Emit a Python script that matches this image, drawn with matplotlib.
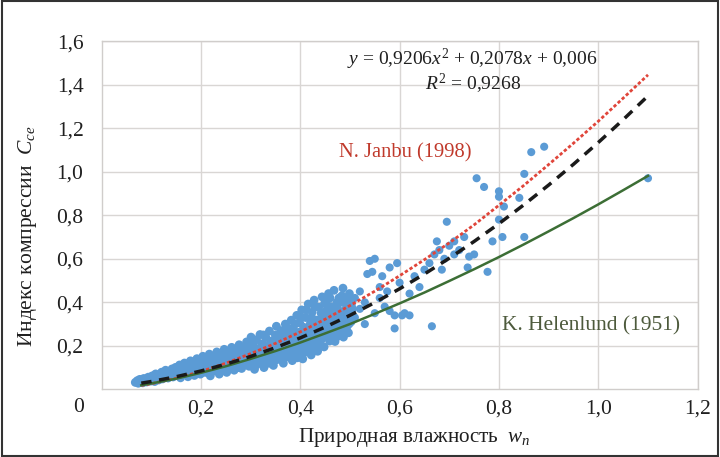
import matplotlib
matplotlib.use("Agg")
import matplotlib.pyplot as plt
from matplotlib.patches import Rectangle

plt.rcParams['font.family'] = ['Liberation Serif', 'DejaVu Serif']
plt.rcParams['mathtext.fontset'] = 'custom'
plt.rcParams['mathtext.rm'] = 'Liberation Serif'
plt.rcParams['mathtext.it'] = 'Liberation Serif:italic'

# --- опытные точки: природная влажность w и индекс компрессии Cce ---
w_band = [
    0.068, 0.072, 0.074, 0.077, 0.079, 0.083, 0.085, 0.088, 0.091, 0.094,
    0.096, 0.099, 0.102, 0.104, 0.107, 0.109, 0.112, 0.115, 0.117, 0.121,
    0.123, 0.126, 0.129, 0.131, 0.134, 0.136, 0.139, 0.142, 0.144, 0.147,
    0.149, 0.152, 0.154, 0.157, 0.159, 0.162, 0.164, 0.167, 0.169, 0.172,
    0.174, 0.177, 0.179, 0.182, 0.184, 0.187, 0.189, 0.192, 0.194, 0.197,
    0.199, 0.202, 0.204, 0.207, 0.209, 0.212, 0.214, 0.217, 0.219, 0.222,
    0.224, 0.227, 0.229, 0.232, 0.234, 0.237, 0.239, 0.242, 0.244, 0.247,
    0.249, 0.252, 0.254, 0.257, 0.259, 0.262, 0.264, 0.267, 0.269, 0.272,
    0.274, 0.277, 0.279, 0.282, 0.284, 0.287, 0.289, 0.292, 0.294, 0.297,
    0.299, 0.301, 0.303, 0.305, 0.308, 0.310, 0.312, 0.315, 0.317, 0.319,
    0.322, 0.324, 0.327, 0.329, 0.331, 0.334, 0.336, 0.338, 0.341, 0.343,
    0.346, 0.348, 0.350, 0.352, 0.354, 0.356, 0.359, 0.361, 0.363, 0.366,
    0.368, 0.370, 0.372, 0.375, 0.377, 0.379, 0.382, 0.384, 0.386, 0.388,
    0.391, 0.393, 0.395, 0.397, 0.399, 0.401, 0.403, 0.405, 0.407, 0.409,
    0.411, 0.413, 0.416, 0.418, 0.420, 0.422, 0.424, 0.426, 0.428, 0.431,
    0.433, 0.435, 0.437, 0.439, 0.441, 0.444, 0.446, 0.448, 0.450, 0.452,
    0.454, 0.457, 0.459, 0.461, 0.464, 0.466, 0.468, 0.471, 0.473, 0.476,
    0.478, 0.481, 0.483, 0.486, 0.488, 0.491, 0.493, 0.496, 0.499, 0.502,
    0.505,
    0.256, 0.266, 0.276, 0.286, 0.296, 0.306, 0.313, 0.321, 0.326, 0.333,
    0.339, 0.345, 0.349, 0.357, 0.362, 0.365, 0.369, 0.373, 0.376, 0.381,
    0.385, 0.389, 0.392, 0.396, 0.400, 0.404, 0.408, 0.412, 0.415, 0.419,
    0.423, 0.427, 0.430, 0.434, 0.438, 0.442, 0.445, 0.449, 0.453, 0.456,
    0.460, 0.463, 0.467, 0.470, 0.474, 0.477, 0.480, 0.484, 0.487, 0.490,
    0.494, 0.497, 0.500, 0.504,
    0.158, 0.166, 0.176, 0.186, 0.196, 0.206, 0.216, 0.226, 0.236, 0.246,
    0.253, 0.261, 0.268, 0.275, 0.283, 0.291, 0.298, 0.304, 0.311, 0.318,
    0.325, 0.332, 0.337, 0.344, 0.351, 0.355, 0.360, 0.367, 0.371, 0.378,
    0.383, 0.387, 0.394, 0.398, 0.402, 0.406, 0.410, 0.414, 0.417, 0.421,
    0.425, 0.429, 0.432, 0.436, 0.440, 0.443, 0.447, 0.451, 0.455, 0.458,
    0.462, 0.465, 0.469, 0.472, 0.475, 0.479, 0.482, 0.485, 0.489, 0.492,
    0.495, 0.498, 0.503,
]
cc_band = [
    0.032, 0.040, 0.028, 0.046, 0.035, 0.030, 0.050, 0.041, 0.034, 0.056,
    0.046, 0.038, 0.062, 0.050, 0.036, 0.071, 0.057, 0.043, 0.066, 0.079,
    0.048, 0.060, 0.088, 0.071, 0.052, 0.081, 0.064, 0.094, 0.057, 0.076,
    0.101, 0.066, 0.088, 0.112, 0.053, 0.080, 0.098, 0.121, 0.069, 0.090,
    0.058, 0.109, 0.131, 0.078, 0.100, 0.064, 0.120, 0.141, 0.087, 0.110,
    0.070, 0.130, 0.152, 0.095, 0.078, 0.118, 0.140, 0.162, 0.062, 0.104,
    0.128, 0.085, 0.150, 0.172, 0.113, 0.070, 0.138, 0.093, 0.160, 0.184,
    0.122, 0.078, 0.148, 0.104, 0.170, 0.193, 0.131, 0.088, 0.157, 0.116,
    0.182, 0.205, 0.140, 0.096, 0.167, 0.124, 0.194, 0.218, 0.150, 0.106,
    0.178, 0.240, 0.133, 0.205, 0.092, 0.160, 0.228, 0.118, 0.186, 0.252,
    0.143, 0.210, 0.100, 0.170, 0.238, 0.127, 0.196, 0.268, 0.154, 0.222,
    0.110, 0.182, 0.250, 0.290, 0.138, 0.212, 0.166, 0.270, 0.236, 0.120,
    0.196, 0.300, 0.150, 0.255, 0.222, 0.178, 0.318, 0.132, 0.282, 0.240,
    0.200, 0.340, 0.160, 0.262, 0.305, 0.222, 0.365, 0.140, 0.285, 0.185,
    0.330, 0.246, 0.392, 0.205, 0.300, 0.158, 0.355, 0.268, 0.410, 0.226,
    0.318, 0.175, 0.378, 0.288, 0.245, 0.425, 0.340, 0.195, 0.300, 0.398,
    0.262, 0.440, 0.222, 0.352, 0.318, 0.280, 0.455, 0.380, 0.240, 0.335,
    0.420, 0.300, 0.258, 0.465, 0.360, 0.395, 0.280, 0.330, 0.440, 0.310,
    0.370,
    0.125, 0.172, 0.100, 0.145, 0.200, 0.180, 0.140, 0.196, 0.250, 0.160,
    0.207, 0.140, 0.230, 0.190, 0.150, 0.250, 0.225, 0.285, 0.200, 0.162,
    0.262, 0.300, 0.228, 0.190, 0.330, 0.250, 0.210, 0.365, 0.275, 0.238,
    0.330, 0.190, 0.380, 0.262, 0.215, 0.350, 0.280, 0.395, 0.330, 0.240,
    0.420, 0.290, 0.365, 0.220, 0.400, 0.300, 0.350, 0.430, 0.240, 0.320,
    0.380, 0.260, 0.410, 0.340,
    0.075, 0.085, 0.095, 0.088, 0.100, 0.112, 0.090, 0.108, 0.125, 0.100,
    0.135, 0.110, 0.140, 0.120, 0.155, 0.128, 0.160, 0.150, 0.112, 0.165,
    0.132, 0.180, 0.120, 0.170, 0.135, 0.175, 0.205, 0.140, 0.175, 0.150,
    0.210, 0.175, 0.145, 0.240, 0.180, 0.165, 0.270, 0.225, 0.175, 0.260,
    0.215, 0.300, 0.200, 0.245, 0.320, 0.230, 0.260, 0.360, 0.300, 0.270,
    0.380, 0.250, 0.330, 0.290, 0.370, 0.270, 0.400, 0.310, 0.280, 0.350,
    0.410, 0.300, 0.390,
]
w_sparse = [0.51, 0.51, 0.52, 0.52, 0.53, 0.53, 0.535, 0.54, 0.55, 0.545,
            0.55, 0.56, 0.56, 0.565, 0.57, 0.575, 0.58, 0.58, 0.59, 0.595,
            0.59, 0.60, 0.605, 0.61, 0.62, 0.62, 0.63, 0.64, 0.65, 0.66,
            0.665, 0.67, 0.675, 0.68, 0.685, 0.69, 0.695, 0.70, 0.71, 0.71,
            0.72, 0.73, 0.74, 0.737, 0.75, 0.755, 0.77, 0.777, 0.787, 0.80,
            0.80, 0.80, 0.807, 0.81, 0.841, 0.851, 0.851, 0.865, 0.891, 1.10]
cc_sparse = [0.33, 0.42, 0.37, 0.45, 0.30, 0.40, 0.53, 0.59, 0.60, 0.54,
             0.35, 0.42, 0.47, 0.52, 0.38, 0.45, 0.56, 0.36, 0.34, 0.58,
             0.28, 0.49, 0.34, 0.35, 0.34, 0.44, 0.52, 0.47, 0.55, 0.58,
             0.29, 0.62, 0.68, 0.64, 0.55, 0.60, 0.77, 0.66, 0.62, 0.68,
             0.64, 0.70, 0.61, 0.56, 0.62, 0.97, 0.93, 0.54, 0.68, 0.91,
             0.885, 0.78, 0.70, 0.84, 0.88, 0.99, 0.70, 1.09, 1.115, 0.97]

# --- тренд и эмпирические зависимости ---
w_fit = [0.08, 0.10, 0.15, 0.20, 0.25, 0.30, 0.35, 0.40, 0.45, 0.50, 0.55,
         0.60, 0.65, 0.70, 0.75, 0.80, 0.85, 0.90, 0.95, 1.00, 1.05, 1.10]
a2, a1, a0 = 0.9206, 0.2078, 0.006
cc_trend = [a2 * w * w + a1 * w + a0 for w in w_fit]
cc_janbu = [0.018, 0.026, 0.051, 0.082, 0.120, 0.164, 0.211, 0.264, 0.322,
            0.385, 0.451, 0.522, 0.596, 0.673, 0.756, 0.846, 0.937, 1.033,
            1.131, 1.232, 1.338, 1.445]
cc_helen = [0.019, 0.027, 0.049, 0.076, 0.106, 0.140, 0.176, 0.215, 0.257,
            0.300, 0.347, 0.395, 0.445, 0.498, 0.552, 0.608, 0.666, 0.726,
            0.787, 0.850, 0.915, 0.981]

txt = '#1f1f1f'
fig = plt.figure(figsize=(7.2, 4.57), dpi=100)
ax = fig.add_axes([0.141, 0.148, 0.828, 0.762])

ax.scatter(w_band, cc_band, s=40, color='#5b9bd5', edgecolors='none', zorder=2)
ax.scatter(w_sparse, cc_sparse, s=34, color='#5b9bd5', edgecolors='none', zorder=2)

ax.plot(w_fit, cc_janbu, color='#e0453a', lw=2.0, ls=(0, (1.2, 0.8)), zorder=3)
ax.plot(w_fit, cc_trend, color='#1a1a1a', lw=2.5, ls=(0, (3, 2.2)), zorder=4)
ax.plot(w_fit, cc_helen, color='#3c6e35', lw=1.8, zorder=3)

ax.set_xlim(0, 1.2)
ax.set_ylim(0, 1.6)
ax.set_xticks([0.2, 0.4, 0.6, 0.8, 1.0, 1.2])
ax.set_xticklabels(['0,2', '0,4', '0,6', '0,8', '1,0', '1,2'])
ax.set_yticks([0.2, 0.4, 0.6, 0.8, 1.0, 1.2, 1.4, 1.6])
ax.set_yticklabels(['0,2', '0,4', '0,6', '0,8', '1,0', '1,2', '1,4', '1,6'])
ax.tick_params(axis='y', length=0, labelsize=15.5, colors=txt, pad=13)
ax.tick_params(axis='x', length=0, labelsize=15.5, colors=txt, pad=7)
ax.grid(True, color='#d9d6d4', lw=1.0, zorder=0)
for s in ax.spines.values():
    s.set_color('#d0cdcb')
    s.set_linewidth(1.0)

ax.set_xlabel(r'Природная влажность  $w_n$', fontsize=15.2, color=txt)
ax.xaxis.set_label_coords(0.524, -0.105)
ax.set_ylabel(r'Индекс компрессии  $C_{ce}$', fontsize=15.5, color=txt)
ax.yaxis.set_label_coords(-0.105, 0.44)
fig.text(79 / 720, 1 - 408 / 457, '0', fontsize=15.5, color=txt,
         ha='center', va='center')

ax.text(0.747, 1.515, r'$y$ = 0,9206$x^2$ + 0,2078$x$ + 0,006', fontsize=14,
        color=txt, ha='center', va='center')
ax.text(0.747, 1.405, r'$R^2$ = 0,9268', fontsize=14, color=txt,
        ha='center', va='center')
ax.text(0.612, 1.087, 'N. Janbu (1998)', fontsize=14.8, color='#c0392b',
        ha='center', va='center')
ax.text(0.986, 0.292, 'K. Helenlund (1951)', fontsize=15.5, color='#4d5a3c',
        ha='center', va='center')

fig.add_artist(Rectangle((0.003, 0.003), 0.994, 0.994, transform=fig.transFigure,
                         fill=False, edgecolor='#333333', lw=1.5))

fig.savefig('out.png', dpi=100)
